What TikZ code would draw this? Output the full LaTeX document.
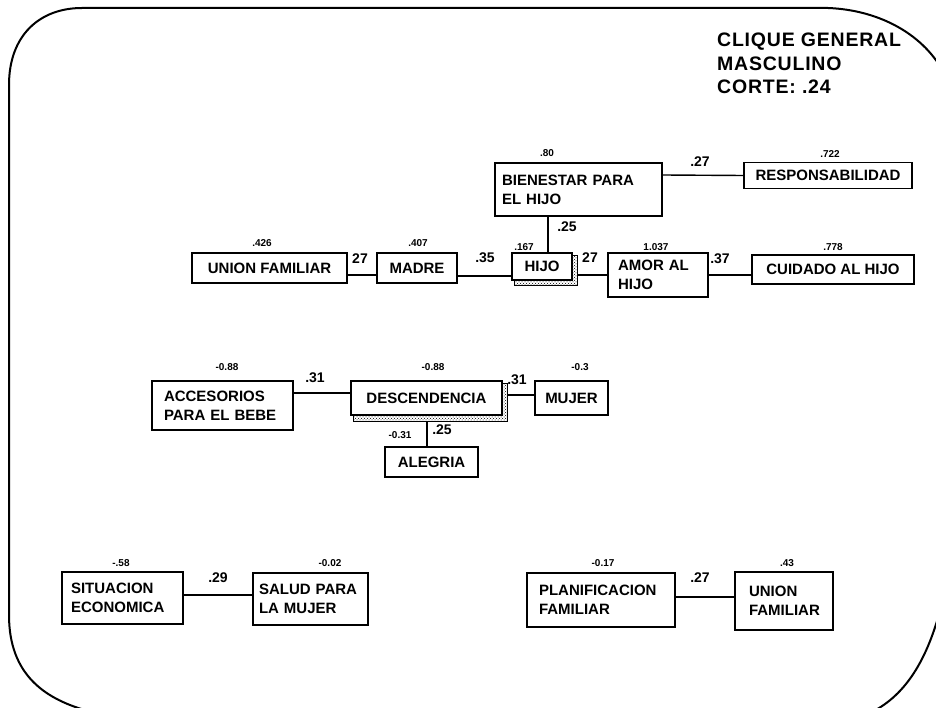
\documentclass[tikz,border=0pt]{standalone}
\usepackage{fontspec}
\setmainfont{Liberation Sans}
\newfontfamily\titlefont[LetterSpace=4]{Liberation Sans}
\usetikzlibrary{patterns}
\begin{document}
\begin{tikzpicture}[x=1pt,y=-1pt,
  box/.style={draw, line width=1.4pt, inner ysep=0pt, font=\bfseries\fontsize{15}{19}\selectfont},
  single/.style={align=center, inner xsep=2pt},
  multi/.style={align=left},
  val/.style={font=\bfseries\fontsize{10}{11}\selectfont, inner sep=0pt},
  elab/.style={font=\bfseries\fontsize{14}{15}\selectfont, inner sep=0pt},
  link/.style={line width=1.4pt},
  shadowband/.style={draw, line width=0.8pt, pattern=crosshatch dots},
  frame/.style={line width=2pt}]
\useasboundingbox (0,0) rectangle (936,708);
\fill[white] (0,0) rectangle (936,708);

% outer frame
\draw[frame] (92,712) .. controls (45,700) and (9,675) .. (9,615) -- (9,85)
  .. controls (9,35) and (40,8) .. (82,8) -- (828,8)
  .. controls (880,10) and (925,35) .. (945,75);
\draw[frame] (945,590) .. controls (930,660) and (905,695) .. (872,712);

% title
\node[anchor=north west, inner sep=0pt, align=left,
  font=\titlefont\bfseries\fontsize{19.5}{23.5}\selectfont] (title) at (717,33)
  {CLIQUE GENERAL\\MASCULINO\\CORTE: .24};

% boxes
\node[box, multi, minimum width=167, minimum height=53, inner xsep=7, text width=153] (bien) at (578.5,189.5) {BIENESTAR PARA\\EL HIJO};
\node[box, single, minimum width=168, minimum height=26] (resp) at (828,175.5) {RESPONSABILIDAD};
\node[box, single, minimum width=155, minimum height=30] (uf1) at (269.5,268) {UNION FAMILIAR};
\node[box, single, minimum width=80, minimum height=30] (madre) at (417,268) {MADRE};
\node[box, single, minimum width=60, minimum height=27] (hijo) at (542,266.5) {HIJO};
\node[box, multi, minimum width=100, minimum height=44, inner xsep=10, text width=80] (amor) at (658,275) {AMOR AL\\HIJO};
\node[box, single, minimum width=162, minimum height=29] (cuid) at (833,269.5) {CUIDADO AL HIJO};
\node[box, multi, minimum width=141, minimum height=49, inner xsep=12, text width=117] (acc) at (222.5,405.5) {ACCESORIOS\\PARA EL BEBE};
\node[box, single, minimum width=151, minimum height=34] (desc) at (426.5,398) {DESCENDENCIA};
\node[box, single, minimum width=73, minimum height=34] (mujer) at (571.5,398) {MUJER};
\node[box, single, minimum width=93, minimum height=30] (aleg) at (431.5,462) {ALEGRIA};
\node[box, multi, minimum width=121, minimum height=52, inner xsep=9, text width=103] (sit) at (122.5,598) {SITUACION\\ECONOMICA};
\node[box, multi, minimum width=115, minimum height=52, inner xsep=6, text width=103] (salud) at (310.5,599) {SALUD PARA\\LA MUJER};
\node[box, multi, minimum width=148, minimum height=54, inner xsep=12, text width=124] (plan) at (601,600) {PLANIFICACION\\FAMILIAR};
\node[box, multi, minimum width=98, minimum height=58, inner xsep=14, text width=70] (uf2) at (784,601) {UNION\\FAMILIAR};

% hatched shadows
\path[shadowband] ([yshift=-3pt]hijo.north east) -- ([xshift=5pt,yshift=-3pt]hijo.north east)
  -- ([xshift=5pt,yshift=-5pt]hijo.south east) -- ([xshift=3pt,yshift=-5pt]hijo.south west)
  -- ([xshift=3pt]hijo.south west) -- (hijo.south east) -- cycle;
\path[shadowband] ([yshift=-3pt]desc.north east) -- ([xshift=5pt,yshift=-3pt]desc.north east)
  -- ([xshift=5pt,yshift=-6pt]desc.south east) -- ([xshift=3pt,yshift=-6pt]desc.south west)
  -- ([xshift=3pt]desc.south west) -- (desc.south east) -- cycle;

% value labels
\node[val] (vbien) at (547,153) {.80};
\node[val] (vresp) at (830,154) {.722};
\node[val] (vuf1) at (262,243) {.426};
\node[val] (vmadre) at (418,243) {.407};
\node[val] (vhijo) at (524,247) {.167};
\node[val] (vamor) at (656,247) {1.037};
\node[val] (vcuid) at (833,247) {.778};
\node[val] (vacc) at (227,367) {-0.88};
\node[val] (vdesc) at (433,367) {-0.88};
\node[val] (vmujer) at (580,367) {-0.3};
\node[val] (valeg) at (400,435) {-0.31};
\node[val] (vsit) at (121,563) {-.58};
\node[val] (vsalud) at (330,563) {-0.02};
\node[val] (vplan) at (603,563) {-0.17};
\node[val] (vuf2) at (787,563) {.43};

% connectors
\draw[link] ([yshift=0.5pt]bien.east |- resp.west) -- (resp.west);
\draw[link] ([xshift=-30.5pt]bien.south) -- ([xshift=-30.5pt]bien.south |- hijo.north);
\draw[link] ([yshift=-7pt]uf1.east) -- ([yshift=-7pt]madre.west);
\draw[link] ([yshift=-8pt]madre.east) -- ([yshift=-9.5pt]hijo.west);
\draw[link] ([xshift=5pt,yshift=-8.5pt]hijo.east) -- (amor.west);
\draw[link] (amor.east) -- (amor.east -| cuid.west);
\draw[link] ([yshift=12.5pt]acc.east) -- ([yshift=5pt]desc.west);
\draw[link] ([xshift=5pt,yshift=3pt]desc.east) -- ([yshift=3pt]mujer.west);
\draw[link] ([xshift=0.5pt,yshift=-6pt]desc.south) -- ([xshift=-4.5pt]aleg.north);
\draw[link] ([yshift=3pt]sit.east) -- ([yshift=4pt]salud.west);
\draw[link] ([yshift=3pt]plan.east) -- ([yshift=4pt]uf2.west);

% connector labels
\node[elab] (l1) at (700,162) {.27};
\node[elab] (l2) at (567,227) {.25};
\node[elab] (l3) at (360,259) {27};
\node[elab] (l4) at (485,258) {.35};
\node[elab] (l5) at (590,258) {27};
\node[elab] (l6) at (720,259) {.37};
\node[elab] (l7) at (315,378) {.31};
\node[elab] (l8) at (517,380) {.31};
\node[elab] (l9) at (442,430) {.25};
\node[elab] (l10) at (218,578) {.29};
\node[elab] (l11) at (700,578) {.27};
\end{tikzpicture}
\end{document}
